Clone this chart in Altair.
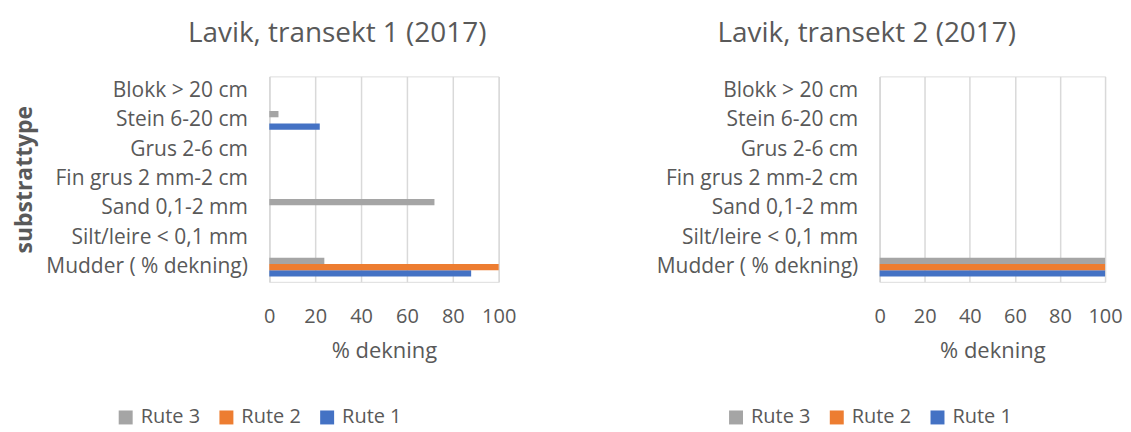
import altair as alt
import pandas as pd

categories = ["Blokk > 20 cm", "Stein 6-20 cm", "Grus 2-6 cm", "Fin grus 2 mm-2 cm",
              "Sand 0,1-2 mm", "Silt/leire < 0,1 mm", "Mudder ( % dekning)"]
series = ["Rute 3", "Rute 2", "Rute 1"]
colors = ["#a5a5a5", "#ed7d31", "#4472c4"]

t1_rute1 = [0, 22, 0, 0, 0, 0, 88]
t1_rute2 = [0, 0, 0, 0, 0, 0, 100]
t1_rute3 = [0, 4, 0, 0, 72, 0, 24]

t2_rute1 = [0, 0, 0, 0, 0, 0, 100]
t2_rute2 = [0, 0, 0, 0, 0, 0, 100]
t2_rute3 = [0, 0, 0, 0, 0, 0, 100]

x_ticks = [0, 20, 40, 60, 80, 100]
FONT = "Open Sans"
TXT = "#595959"


def frame(r1, r2, r3):
    rows = []
    for name, vals in (("Rute 1", r1), ("Rute 2", r2), ("Rute 3", r3)):
        for c, v in zip(categories, vals):
            rows.append({"kategori": c, "rute": name, "verdi": v})
    return pd.DataFrame(rows)


def panel(df, title, ytitle, width, title_dx):
    yaxis = dict(title=ytitle, domain=True, domainColor="#d9d9d9",
                 domainWidth=1.5, ticks=False, labelPadding=22,
                 labelFontSize=21, titleFontSize=23, titleFontWeight="bold",
                 labelColor=TXT, titleColor=TXT, labelFont=FONT,
                 titleFont=FONT, labelLimit=400)
    if ytitle:
        yaxis.update(titleX=-245, titleY=103, titleAlign="center",
                     titleBaseline="middle", titleAngle=270)
    return alt.Chart(df).mark_bar().encode(
        x=alt.X("verdi:Q",
                scale=alt.Scale(domain=[0, 100], nice=False),
                axis=alt.Axis(values=x_ticks, title="% dekning", grid=True,
                              gridColor="#d9d9d9", gridWidth=1.5, domain=False,
                              ticks=False, labelPadding=25, titlePadding=14,
                              labelFlush=False, labelOverlap=False,
                              labelFontSize=20, titleFontSize=22,
                              titleFontWeight="normal", labelColor=TXT,
                              titleColor=TXT, labelFont=FONT, titleFont=FONT)),
        y=alt.Y("kategori:N", sort=categories,
                scale=alt.Scale(paddingInner=0.36, paddingOuter=0.18),
                axis=alt.Axis(**yaxis)),
        yOffset=alt.YOffset("rute:N", sort=series),
        color=alt.Color("rute:N",
                        scale=alt.Scale(domain=series, range=colors),
                        legend=alt.Legend(title=None, orient="none",
                                          direction="horizontal",
                                          legendX=-154, legendY=332,
                                          symbolType="square", symbolSize=196,
                                          symbolStrokeWidth=0,
                                          labelFontSize=20, labelColor=TXT,
                                          labelFont=FONT, columnPadding=16,
                                          labelOffset=5)),
    ).properties(
        width=width, height=206,
        title=alt.TitleParams(title, fontSize=28, font=FONT, color=TXT,
                              fontWeight="normal", anchor="middle",
                              dx=title_dx, offset=28),
    )


p1 = panel(frame(t1_rute1, t1_rute2, t1_rute3), "Lavik, transekt 1 (2017)",
           "substrattype", 230, -47)
p2 = panel(frame(t2_rute1, t2_rute2, t2_rute3), "Lavik, transekt 2 (2017)",
           None, 226, -126)

chart = alt.hconcat(p1, p2, spacing=139).resolve_scale(color="independent").resolve_legend(
    color="independent").configure_view(stroke=None).configure(background="white").properties(
    padding={"left": 5, "top": 11, "right": 0, "bottom": 0})

chart.save("out.html", embed_options={"renderer": "svg", "actions": False})
